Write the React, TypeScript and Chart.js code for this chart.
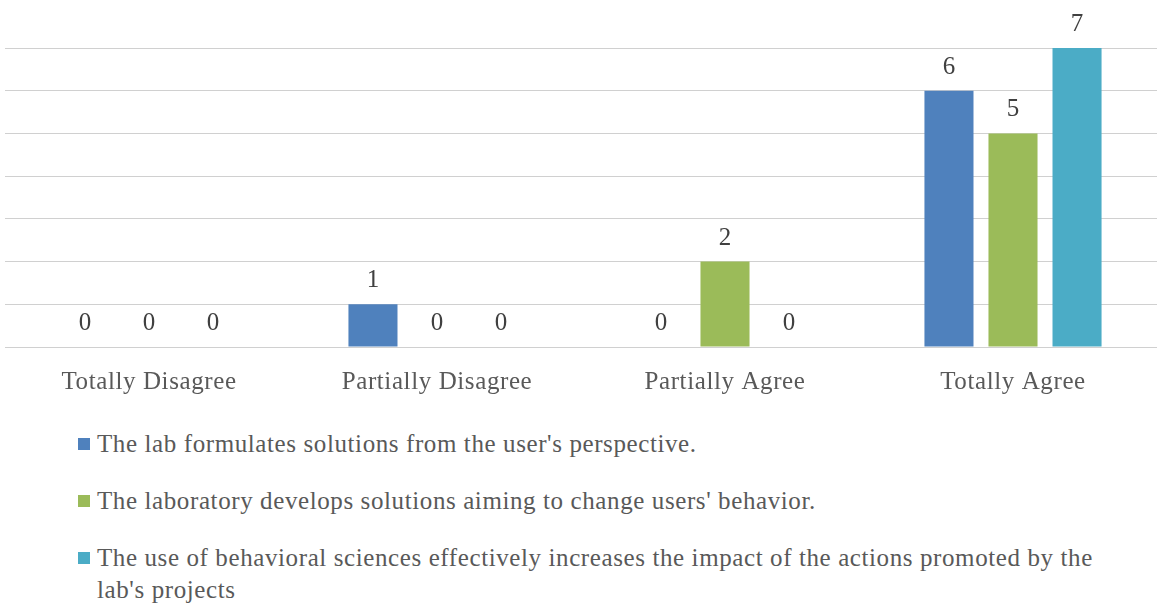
import React, { useEffect, useRef } from "react";
import { Chart, registerables } from "chart.js";

Chart.register(...registerables);

const categories = ["Totally Disagree", "Partially Disagree", "Partially Agree", "Totally Agree"];
const seriesLabels = [
  "The lab formulates solutions from the user's perspective.",
  "The laboratory develops solutions aiming to change users' behavior.",
  "The use of behavioral sciences effectively increases the impact of the actions promoted by the lab's projects",
];
const seriesA = [0, 1, 0, 6];
const seriesB = [0, 0, 2, 5];
const seriesC = [0, 0, 0, 7];
const seriesColors = ["#4F81BD", "#9BBB59", "#4BACC6"];
const yTicks = [0, 1, 2, 3, 4, 5, 6, 7];

const FONT = "'Liberation Serif', 'Times New Roman', serif";
const SPACING = "0.6px";

const letterSpacing = {
  id: "letterSpacing",
  beforeDraw(chart: any) {
    chart.ctx.letterSpacing = SPACING;
  },
};

const valueLabels = {
  id: "valueLabels",
  afterDatasetsDraw(chart: any) {
    const ctx = chart.ctx;
    ctx.save();
    ctx.letterSpacing = "0px";
    ctx.font = `25px ${FONT}`;
    ctx.fillStyle = "#404040";
    ctx.textAlign = "center";
    ctx.textBaseline = "alphabetic";
    chart.data.datasets.forEach((ds: any, i: number) => {
      const meta = chart.getDatasetMeta(i);
      meta.data.forEach((el: any, j: number) => {
        ctx.fillText(String(ds.data[j]), el.x, el.y - 17);
      });
    });
    ctx.restore();
  },
};

export default function App() {
  const ref = useRef<HTMLCanvasElement>(null);

  useEffect(() => {
    document.body.style.margin = "0";
    const chart = new Chart(ref.current!, {
      type: "bar",
      data: {
        labels: categories,
        datasets: [seriesA, seriesB, seriesC].map((d, i) => ({
          label: seriesLabels[i],
          data: d,
          backgroundColor: seriesColors[i],
          categoryPercentage: 0.667,
          barPercentage: 0.766,
        })),
      },
      options: {
        responsive: false,
        animation: false,
        layout: { padding: { left: 5, right: 4, top: 48, bottom: 0 } },
        plugins: {
          legend: { display: false },
          tooltip: { enabled: false },
        },
        scales: {
          x: {
            grid: { display: false, drawTicks: false },
            border: { display: false },
            ticks: {
              color: "#595959",
              font: { family: FONT, size: 25 },
              padding: 20,
            },
          },
          y: {
            min: 0,
            max: 7,
            afterBuildTicks: (axis: any) => {
              axis.ticks = yTicks.map((v) => ({ value: v }));
            },
            afterFit: (axis: any) => {
              axis.width = 0;
            },
            grid: { color: "#d0d0d0", lineWidth: 1, drawTicks: false },
            border: { display: false },
            ticks: { display: false },
          },
        },
      },
      plugins: [letterSpacing, valueLabels],
    });
    return () => chart.destroy();
  }, []);

  return (
    <div style={{ position: "absolute", left: 0, top: 0, width: 1161, height: 604, background: "#fff", fontFamily: FONT }}>
      <canvas ref={ref} width={1161} height={417} style={{ display: "block" }} />
      <div style={{ position: "absolute", left: 78, top: 428, width: 1049 }}>
        {seriesLabels.map((lab, i) => (
          <div key={i} style={{ display: "flex", alignItems: "flex-start", marginBottom: 25 }}>
            <div style={{ width: 12, height: 12, background: seriesColors[i], marginTop: 10, marginRight: 7, flex: "none" }} />
            <div style={{ fontSize: 25, lineHeight: "32px", letterSpacing: SPACING, color: "#595959" }}>{lab}</div>
          </div>
        ))}
      </div>
    </div>
  );
}
